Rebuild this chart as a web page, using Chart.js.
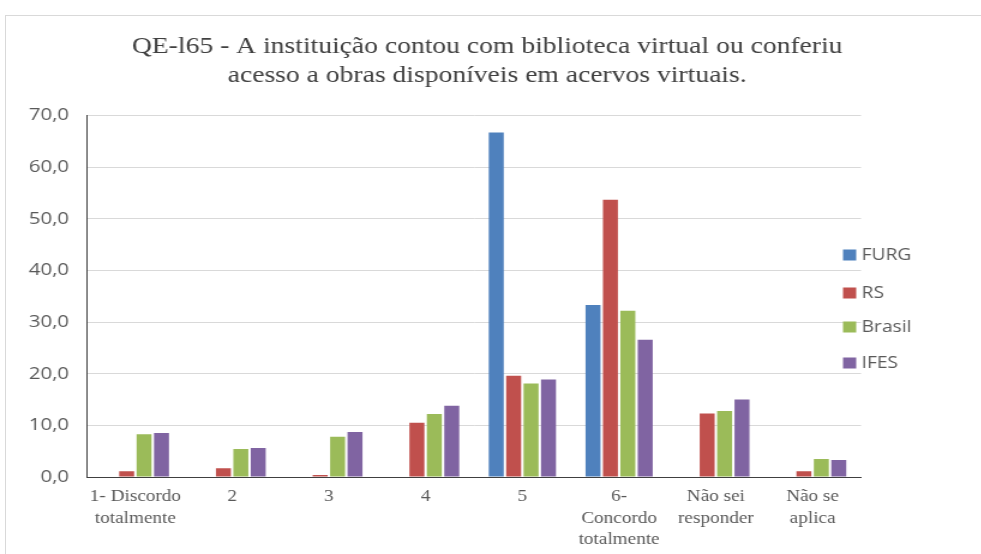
<!DOCTYPE html>
<html>
<head>
<meta charset="utf-8">
<script src="https://cdn.jsdelivr.net/npm/chart.js@4"></script>
<style>
  html, body { margin: 0; padding: 0; background: #fff; overflow: hidden; }
  #frame { position: absolute; left: 5px; top: 15px; width: 1000px; height: 600px; border: 1px solid #d9d9d9; }
  /* the original image is a bit stretched sideways */
  #wrap { position: absolute; left: 0; top: 0; width: 802px; height: 538px; transform: scaleX(1.2); transform-origin: 0 0; }
</style>
</head>
<body>
<div id="frame">
  <div id="wrap"><canvas id="myChart"></canvas></div>
</div>
<script>
// categorias e valores (%)
const categorias = [
  ["1- Discordo", "totalmente"], "2", "3", "4", "5",
  ["6-", "Concordo", "totalmente"], ["Não sei", "responder"], ["Não se", "aplica"]
];
const furg   = [0, 0, 0, 0, 66.7, 33.3, 0, 0];
const rs     = [1.1, 1.7, 0.4, 10.5, 19.6, 53.7, 12.3, 1.1];
const brasil = [8.3, 5.4, 7.8, 12.2, 18.1, 32.2, 12.8, 3.5];
const ifes   = [8.5, 5.6, 8.7, 13.8, 18.9, 26.6, 15.0, 3.3];
const nomes  = ["FURG", "RS", "Brasil", "IFES"];
const cores  = ["#4F81BD", "#C0504D", "#9BBB59", "#8064A2"];

const series = [furg, rs, brasil, ifes];

// legenda desenhada a mao, ao lado direito
const legendaPlugin = {
  id: "legendaLateral",
  afterDraw(chart) {
    const ctx = chart.ctx;
    ctx.save();
    ctx.font = "16px 'Open Sans', sans-serif";
    ctx.textBaseline = "middle";
    const ys = [239, 277, 311, 347];
    nomes.forEach((n, i) => {
      ctx.fillStyle = cores[i];
      ctx.fillRect(697.5, ys[i] - 5.5, 11, 11);
      ctx.fillStyle = "#595959";
      ctx.fillText(n, 713, ys[i]);
    });
    ctx.restore();
  }
};

const data = {
  labels: categorias,
  datasets: series.map((s, i) => ({
    label: nomes[i],
    data: s,
    backgroundColor: cores[i],
    borderWidth: 0,
    barPercentage: 0.86,
    categoryPercentage: 0.72
  }))
};

const config = {
  type: "bar",
  data,
  options: {
    responsive: true,
    maintainAspectRatio: false,
    animation: false,
    plugins: {
      legend: { display: false },
      tooltip: { enabled: false },
      title: {
        display: true,
        text: ["QE-l65 - A instituição contou com biblioteca virtual ou conferiu",
               "acesso a obras disponíveis em acervos virtuais."],
        font: { family: "'Liberation Serif', serif", size: 23, weight: "normal", lineHeight: 1.25 },
        color: "#404040",
        padding: { top: 17, bottom: 25 }
      }
    },
    scales: {
      x: {
        grid: { display: false },
        border: { color: "#404040", width: 1 },
        ticks: {
          color: "#595959",
          font: { family: "'Liberation Serif', serif", size: 16, lineHeight: 1.35 },
          maxRotation: 0,
          autoSkip: false,
          padding: 1
        },
        afterFit: (s) => { s.height = 77; }
      },
      y: {
        min: 0,
        max: 70,
        grid: { color: "#d9d9d9", drawTicks: false },
        border: { color: "#404040", width: 1 },
        ticks: {
          stepSize: 10,
          color: "#595959",
          font: { family: "'Open Sans', sans-serif", size: 17 },
          padding: 15,
          callback: (v) => v.toFixed(1).replace(".", ",")
        },
        afterFit: (s) => { s.width = 67.5; }
      },
      // espaco para a legenda, sem deslocar o titulo
      espaco: {
        type: "linear",
        position: "right",
        grid: { display: false },
        border: { display: false },
        ticks: { display: false },
        afterFit: (s) => { s.width = 89.5; }
      }
    }
  },
  plugins: [legendaPlugin]
};

const myChart = new Chart(document.getElementById("myChart"), config);
</script>
</body>
</html>
